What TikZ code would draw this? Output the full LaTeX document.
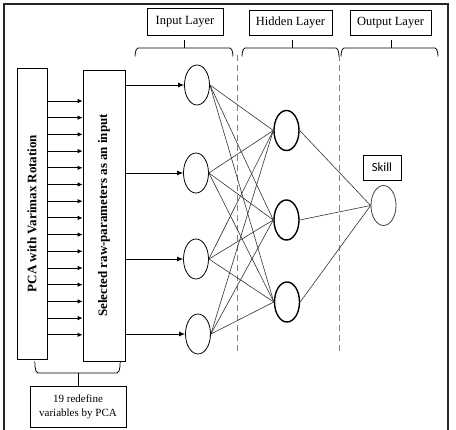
\documentclass[tikz,border=0pt]{standalone}
\usepackage{fontspec}
\setmainfont{Liberation Serif}
\newfontfamily\skillfont{Carlito}
\usetikzlibrary{shapes.geometric,arrows.meta}
\begin{document}
\begin{tikzpicture}[x=1pt,y=-1pt,
  box/.style={draw,line width=0.8pt,inner sep=0pt},
  lbl/.style={box,font=\fontsize{12.5}{14}\selectfont},
  neuron/.style={draw,ellipse,minimum width=25pt,minimum height=40pt,inner sep=0pt,line width=0.8pt},
  hneuron/.style={neuron,line width=1.4pt},
  link/.style={black!80,line width=0.6pt},
  arr/.style={line width=0.8pt,-{Latex[length=6pt,width=5pt]}},
  sarr/.style={line width=0.8pt,-{Latex[length=5pt,width=4.5pt]}},
  brace/.style={line width=0.8pt},
  sep/.style={gray,line width=0.8pt,dash pattern=on 6pt off 4pt}]
\useasboundingbox (0,0) rectangle (456,430);
% frame
\draw[line width=1.6pt,black!85] (4,431) -- (4,4) -- (448,4) -- (448,431);
% layer labels
\node[lbl,minimum width=76pt,minimum height=27pt] (inl) at (185,21.5) {Input Layer};
\node[lbl,minimum width=83pt,minimum height=25pt] (hidl) at (290.5,22.5) {Hidden Layer};
\node[lbl,minimum width=81pt,minimum height=25pt] (outl) at (390.5,22.5) {Output Layer};
% braces
\foreach \a/\b/\t in {135/233/184,242/339/292,341/438/391}{
  \draw[brace] (\a,55) to[out=-90,in=180] (\a+3,48) -- (\b-3,48) to[out=0,in=-90] (\b,55);
  \draw[brace] (\t,48) -- (\t,40);
}
% dashed separators
\draw[sep] (237,55) -- (237,352);
\draw[sep] (339,55) -- (339,352);
% left boxes
\node[box,minimum width=30pt,minimum height=291pt] (pca) at (32,213.5) {};
\node[rotate=90,font=\fontsize{13}{15}\selectfont\bfseries] (pcat) at (pca) {PCA with Varimax Rotation};
\node[box,minimum width=42pt,minimum height=291pt] (sel) at (104,215.5) {};
\node[rotate=90,font=\fontsize{13}{15}\selectfont\bfseries] (selt) at (sel) {Selected raw-parameters as an input};
\foreach \y in {101,117.7,...,336}{
  \draw[sarr] (pca.east |- 0,\y) -- (sel.west |- 0,\y);
}
% bottom brace and box
\draw[brace] (35,364) to[out=90,in=180] (38,373) -- (117,373) to[out=0,in=90] (120,364);
\node[box,minimum width=96pt,minimum height=41pt,align=center,font=\fontsize{11}{14}\selectfont] (red) at (78,406.5) {19 redefine\\variables by PCA};
\draw[brace] (78,373) -- (red.north);
% neurons
\node[neuron] (i1) at (197,85) {};
\node[neuron] (i2) at (196,173) {};
\node[neuron] (i3) at (196,259) {};
\node[neuron] (i4) at (198,334) {};
\node[hneuron] (h1) at (286.5,130.5) {};
\node[hneuron] (h2) at (286.5,220) {};
\node[hneuron] (h3) at (287,302) {};
\node[neuron,black!75] (o1) at (383.5,205.5) {};
\node[box,minimum width=38pt,minimum height=25pt,font=\skillfont\fontsize{12.5}{14}\selectfont] (skill) at (382,167.5) {Skill};
% input arrows
\foreach \i in {1,...,4}{
  \draw[arr] (sel.east |- i\i.west) -- (i\i.west);
}
% links
\foreach \i in {1,...,4}{
  \foreach \j in {1,2,3}{
    \draw[link] (i\i.east) -- (h\j.west);
  }
}
\foreach \j in {1,2,3}{
  \draw[link] (h\j.east) -- (o1.west);
}
\end{tikzpicture}
\end{document}
